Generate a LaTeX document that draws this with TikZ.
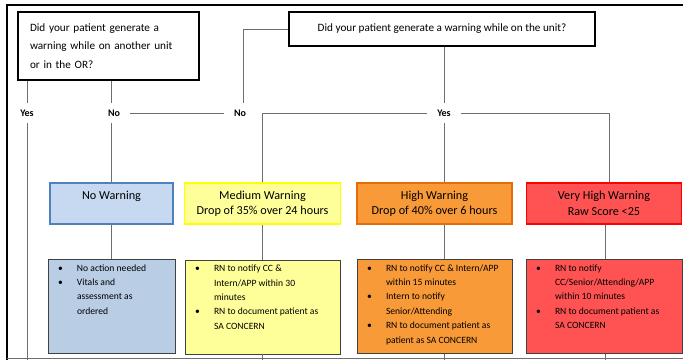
\documentclass[tikz,border=0pt]{standalone}
\usepackage{fontspec}
\setmainfont{Carlito}
\usepackage{tikz}

\definecolor{linegray}{HTML}{6E6E6E}
\definecolor{boxline}{HTML}{404040}
\definecolor{blueedge}{HTML}{4F81BD}
\definecolor{bluehead}{HTML}{C6D9F1}
\definecolor{blueact}{HTML}{B9CDE5}
\definecolor{yellowedge}{HTML}{FFFF00}
\definecolor{yellowfill}{HTML}{FFFF99}
\definecolor{orangeedge}{HTML}{E46C0A}
\definecolor{orangefill}{HTML}{F99A38}
\definecolor{rededge}{HTML}{FF0000}
\definecolor{redfill}{HTML}{FF5353}

% bullet line with hanging indent
\newcommand{\actitem}[1]{\par\hangindent=19pt\hangafter=1\noindent\makebox[19pt][l]{\textbullet}#1}
\newcommand{\actlist}[2]{\parbox[c][84pt][t]{#1}{\fontsize{9.6}{14.4}\selectfont #2}}

\begin{document}
\begin{tikzpicture}[x=1pt,y=-1pt,
  question/.style={draw=black,line width=2pt,fill=white,inner sep=0pt,
    font=\fontsize{11.2}{18.5}\selectfont},
  answer/.style={inner xsep=10pt,inner ysep=7pt,font=\bfseries\fontsize{10}{12}\selectfont},
  headbox/.style={line width=1.8pt,minimum height=41pt,inner sep=0pt,align=center,
    font=\fontsize{12.2}{15.5}\selectfont},
  actbox/.style={draw=boxline,line width=0.8pt,inner xsep=10pt,inner ysep=5pt},
  conn/.style={draw=linegray,line width=0.9pt}]
\useasboundingbox (0,0) rectangle (683,360);

% frame
\draw[line width=2.4pt] (7,360) -- (7,5) -- (683,5);
\draw[linegray,line width=0.6pt] (7,358) -- (683,358);
\coordinate (bottom) at (0,360);

% questions
\node[question,minimum width=181pt,minimum height=68pt,text width=157pt,align=left] (qa) at (108.5,46)
  {Did your patient generate a\\warning while on another unit\\or in the OR?};
\node[question,minimum width=306pt,minimum height=34pt,align=center] (qb) at (442,29)
  {Did your patient generate a warning while on the unit?};

% answers
\node[answer] (yes1) at (27,113) {Yes};
\node[answer] (no1) at (114,113) {No};
\node[answer] (no2) at (240,113) {No};
\node[answer] (yes2) at (444,113) {Yes};

% warning levels
\node[headbox,draw=blueedge,fill=bluehead,minimum width=123pt] (hblue) at (111.5,203.5) {No Warning\\\phantom{X}};
\node[headbox,draw=yellowedge,fill=yellowfill,minimum width=156pt] (hyel) at (262.5,203.5)
  {Medium Warning\\Drop of 35\% over 24 hours};
\node[headbox,draw=orangeedge,fill=orangefill,minimum width=155pt] (horg) at (434.5,203.5)
  {High Warning\\Drop of 40\% over 6 hours};
\node[headbox,draw=rededge,fill=redfill,minimum width=155pt] (hred) at (604,203.5)
  {Very High Warning\\Raw Score <25};

% actions
\node[actbox,fill=blueact] (ablue) at (111.5,306.5) {\actlist{107pt}{%
  \actitem{No action needed}
  \actitem{Vitals and\\assessment as\\ordered}}};
\node[actbox,fill=yellowfill] (ayel) at (262.5,307) {\actlist{135pt}{%
  \actitem{RN to notify CC \&\\Intern/APP within 30\\minutes}
  \actitem{RN to document patient as\\SA CONCERN}}};
\node[actbox,fill=orangefill] (aorg) at (434.5,306.5) {\actlist{135pt}{%
  \actitem{RN to notify CC \& Intern/APP\\within 15 minutes}
  \actitem{Intern to notify\\Senior/Attending}
  \actitem{RN to document patient as\\patient as SA CONCERN}}};
\node[actbox,fill=redfill] (ared) at (604,306.5) {\actlist{136pt}{%
  \actitem{RN to notify\\CC/Senior/Attending/APP\\within 10 minutes}
  \actitem{RN to document patient as\\SA CONCERN}}};

% connectors
\draw[conn] (yes1 |- qa.south) -- (yes1.north);
\draw[conn] (yes1.south) -- (yes1 |- bottom);
\draw[conn] (hblue |- qa.south) -- (hblue |- no1.north);
\draw[conn] (hblue |- no1.south) -- (hblue.north);
\draw[conn] (no1.east) -- (no2.west);
\draw[conn] (qb.west) -| ([xshift=3pt]no2.north);
\draw[conn] (yes2 |- qb.south) -- (yes2.north);
\draw[conn] (yes2.west) -| (hyel.north);
\draw[conn] (yes2.east) -| ([xshift=5pt]hred.north);
\draw[conn] (yes2.south) -- (yes2 |- horg.north);
\draw[conn] (hblue.south) -- (ablue.north);
\draw[conn] (hyel.south) -- (ayel.north);
\draw[conn] (yes2 |- horg.south) -- (yes2 |- aorg.north);
\draw[conn] ([xshift=1pt]hred.south) -- ([xshift=1pt]hred.south |- ared.north);
\draw[conn] (ayel.south) -- (ayel |- bottom);
\draw[conn] (yes2 |- aorg.south) -- (yes2 |- bottom);
\draw[conn] ([xshift=1pt]ared.south) -- ([xshift=1pt]ared.south |- bottom);
\end{tikzpicture}
\end{document}
